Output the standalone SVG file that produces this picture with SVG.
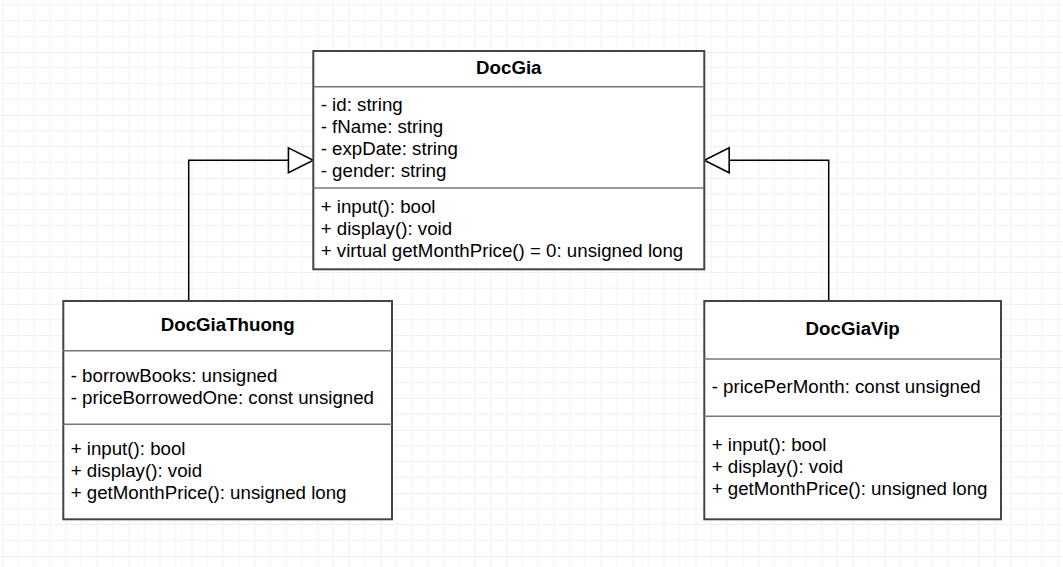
<svg xmlns="http://www.w3.org/2000/svg" width="1063" height="567" viewBox="0 0 1063 567">
<defs>
<pattern id="grid" x="2.5" y="52" width="63" height="63" patternUnits="userSpaceOnUse">
<path d="M15.75 0V63M31.5 0V63M47.25 0V63M0 15.75H63M0 31.5H63M0 47.25H63" stroke="#f1f1f1" stroke-width="1" fill="none"/>
<path d="M0 0V63M0 0H63" stroke="#e2e2e2" stroke-width="1" fill="none"/>
</pattern>
<marker id="tri" markerUnits="userSpaceOnUse" markerWidth="28" markerHeight="28" viewBox="-1 -13 27 26" refX="24" refY="0" orient="auto">
<path d="M0 -12L24 0L0 12Z" fill="#fff" stroke="#000" stroke-width="1.5"/>
</marker>
</defs>
<style>
.box{fill:#fff;stroke:#444;stroke-width:2}
.sep{stroke:#777;stroke-width:1.5}
.t{font-family:"Liberation Sans",Arial,sans-serif;font-size:18.7px;fill:#000}
.h{font-family:"Liberation Sans",Arial,sans-serif;font-size:18.7px;font-weight:bold;fill:#000;text-anchor:middle}
.c{fill:none;stroke:#000;stroke-width:1.5}
</style>
<rect width="1063" height="567" fill="#fff"/>
<rect width="1063" height="567" fill="url(#grid)"/>
<g id="connectors">
<path class="c" d="M188.7 301V160.3H313.3" marker-end="url(#tri)"/>
<path class="c" d="M828.7 301V160.3H704.3" marker-end="url(#tri)"/>
</g>
<g id="DocGia">
<rect class="box" x="313.3" y="51" width="391" height="218.3"/>
<line class="sep" x1="313.3" y1="86.7" x2="704.3" y2="86.7"/>
<line class="sep" x1="313.3" y1="188" x2="704.3" y2="188"/>
<text class="h" x="508.8" y="74.3">DocGia</text>
<text class="t" x="320.7" y="111">- id: string</text>
<text class="t" x="320.7" y="133">- fName: string</text>
<text class="t" x="320.7" y="155">- expDate: string</text>
<text class="t" x="320.7" y="177">- gender: string</text>
<text class="t" x="320.7" y="212.5">+ input(): bool</text>
<text class="t" x="320.7" y="234.5">+ display(): void</text>
<text class="t" x="320.7" y="256.5">+ virtual getMonthPrice() = 0: unsigned long</text>
</g>
<g id="DocGiaThuong">
<rect class="box" x="63.3" y="301" width="328.7" height="218.3"/>
<line class="sep" x1="63.3" y1="350.7" x2="392" y2="350.7"/>
<line class="sep" x1="63.3" y1="424.3" x2="392" y2="424.3"/>
<text class="h" x="227.7" y="330.7">DocGiaThuong</text>
<text class="t" x="70.7" y="382.3">- borrowBooks: unsigned</text>
<text class="t" x="70.7" y="404.3">- priceBorrowedOne: const unsigned</text>
<text class="t" x="70.7" y="455">+ input(): bool</text>
<text class="t" x="70.7" y="477">+ display(): void</text>
<text class="t" x="70.7" y="499">+ getMonthPrice(): unsigned long</text>
</g>
<g id="DocGiaVip">
<rect class="box" x="704.3" y="301" width="296.7" height="218.3"/>
<line class="sep" x1="704.3" y1="359" x2="1001" y2="359"/>
<line class="sep" x1="704.3" y1="416.3" x2="1001" y2="416.3"/>
<text class="h" x="852.7" y="335">DocGiaVip</text>
<text class="t" x="711.7" y="393.3">- pricePerMonth: const unsigned</text>
<text class="t" x="711.7" y="451">+ input(): bool</text>
<text class="t" x="711.7" y="473">+ display(): void</text>
<text class="t" x="711.7" y="495">+ getMonthPrice(): unsigned long</text>
</g>
</svg>
